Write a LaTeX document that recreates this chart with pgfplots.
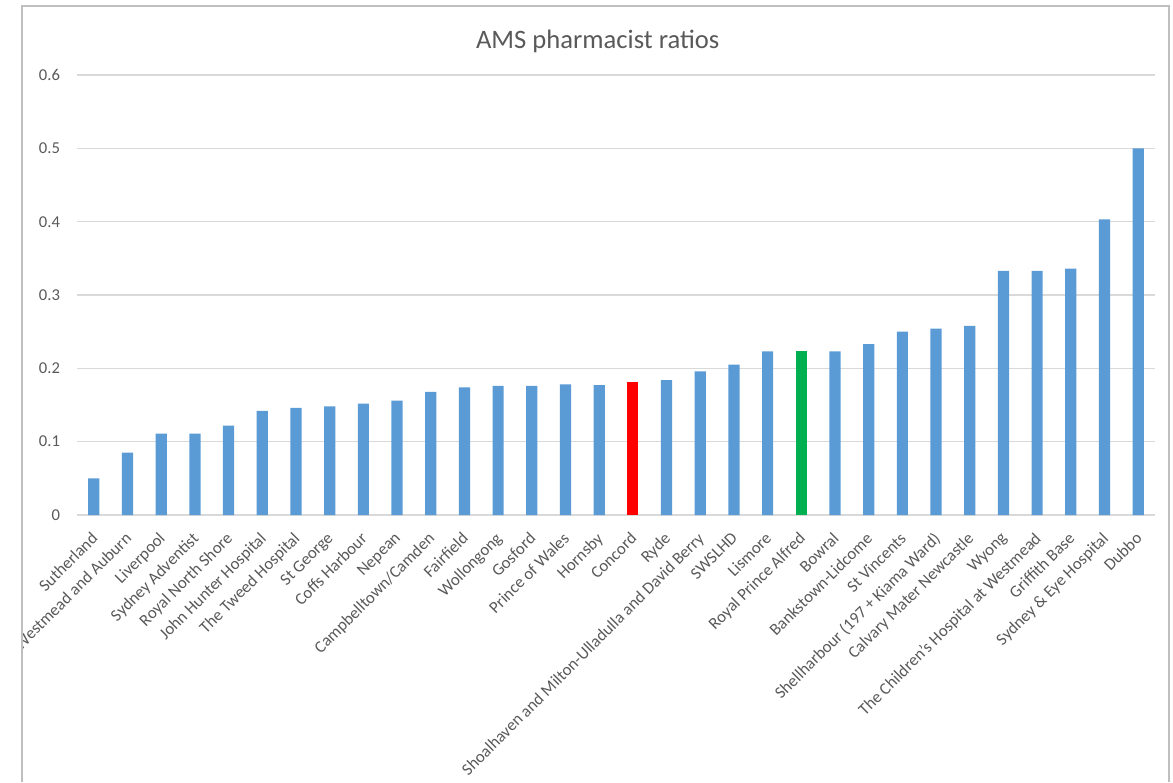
\documentclass[border=0pt]{standalone}
\usepackage{pgfplots}
\pgfplotsset{compat=1.18}
\usepackage{fontspec}
\setmainfont{Carlito}
\definecolor{barblue}{HTML}{5B9BD5}
\definecolor{barred}{HTML}{FF0000}
\definecolor{bargreen}{HTML}{00B050}
\definecolor{txtgrey}{HTML}{595959}
\definecolor{gridgrey}{HTML}{D9D9D9}
\definecolor{framegrey}{HTML}{BFBFBF}
\begin{document}
\begin{tikzpicture}[x=1bp,y=1bp]
\useasboundingbox (0,0) rectangle (586.5,391);
\draw[framegrey, line width=1bp] (11,0) -- (11,388) -- (584.5,388) -- (584.5,0);
\begin{scope}
\clip (11.5,0) rectangle (584,387.5);
\begin{axis}[
  at={(38.5bp,133.5bp)}, anchor=south west,
  scale only axis, width=539bp, height=220bp,
  xmin=-0.5, xmax=31.5, ymin=0, ymax=0.6,
  ytick={0,0.1,0.2,0.3,0.4,0.5,0.6},
  yticklabels={0,0.1,0.2,0.3,0.4,0.5,0.6},
  ymajorgrids, major grid style={draw=gridgrey, line width=0.8bp},
  axis line style={draw=none},
  major tick length=0pt,
  xtick={0,...,31},
  xticklabels={Sutherland,Westmead and Auburn,Liverpool,Sydney Adventist,Royal North Shore,John Hunter Hospital,The Tweed Hospital,St George,Coffs Harbour,Nepean,Campbelltown/Camden,Fairfield,Wollongong,Gosford,Prince of Wales,Hornsby,Concord,Ryde,Shoalhaven and Milton-Ulladulla and David Berry,SWSLHD,Lismore,Royal Prince Alfred,Bowral,Bankstown-Lidcome,St Vincents,Shellharbour (197 + Kiama Ward),Calvary Mater Newcastle,Wyong,The Children’s Hospital at Westmead,Griffith Base,Sydney \& Eye Hospital,Dubbo},
  xticklabel style={xshift=-1.75bp, yshift=-6.5bp, rotate=45, anchor=north east, font=\fontsize{8.4bp}{10bp}\selectfont, text=txtgrey, inner sep=1bp},
  yticklabel style={font=\fontsize{8.3bp}{9bp}\selectfont, text=txtgrey, xshift=-5bp},
  /pgf/number format/assume math mode=true,
  title={AMS pharmacist ratios},
  title style={at={(axis description cs:0.483,1)}, anchor=center, yshift=11bp, font=\fontsize{13.3bp}{15bp}\selectfont, text=txtgrey},
  ybar, bar width=5.6bp, bar shift=0pt,
]
\addplot[fill=barblue, draw=none] coordinates {
(0,0.050) (1,0.085) (2,0.111) (3,0.111) (4,0.122) (5,0.142) (6,0.146) (7,0.148)
(8,0.152) (9,0.156) (10,0.168) (11,0.174) (12,0.176) (13,0.176) (14,0.178) (15,0.177)
(17,0.184) (18,0.196) (19,0.205) (20,0.223) (22,0.223) (23,0.233)
(24,0.250) (25,0.254) (26,0.258) (27,0.333) (28,0.333) (29,0.336) (30,0.403) (31,0.500)};
\addplot[fill=barred, draw=none] coordinates {(16,0.182)};
\addplot[fill=bargreen, draw=none] coordinates {(21,0.223)};
\end{axis}
\end{scope}
\end{tikzpicture}
\end{document}
